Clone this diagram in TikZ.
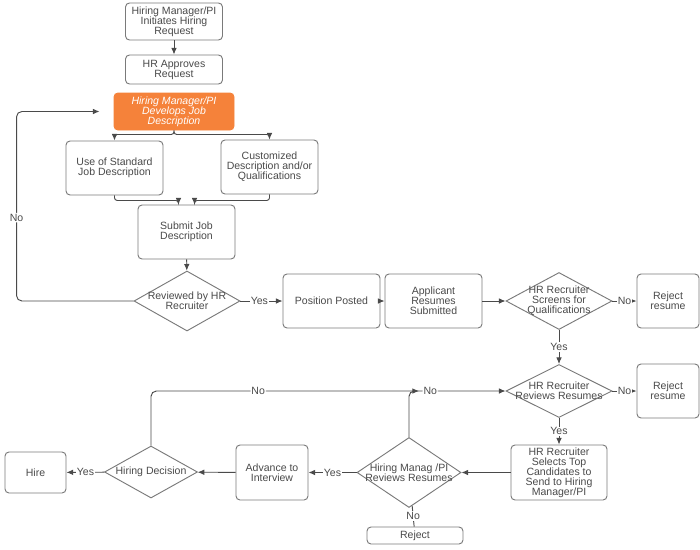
\documentclass[tikz,border=0pt]{standalone}
\usepackage{fontspec}
\setmainfont{Liberation Sans}
\usepackage{tikz}
\usetikzlibrary{arrows.meta,positioning,calc,shapes.geometric}
\definecolor{ink}{HTML}{4A4A4A}
\definecolor{edge}{HTML}{7A7A7A}
\definecolor{orangefill}{HTML}{F5823A}

\begin{document}
\begin{tikzpicture}[x=0.75pt,y=-0.75pt]
    \tikzset{
      item/.style={rounded corners=3pt,draw=edge,line width=0.7pt,fill=white,minimum width=72.75pt,minimum height=40.5pt,inner sep=1pt,align=center,font=\fontsize{7.9}{7.5}\selectfont,text=ink},
      focus/.style={item,draw=orangefill,fill=orangefill,text=white,font=\fontsize{7.9}{7.5}\selectfont\itshape},
      decision/.style={diamond,draw=edge,line width=0.7pt,fill=white,inner sep=0pt,minimum width=79.5pt,minimum height=45pt},
      dtext/.style={align=center,font=\fontsize{7.9}{7.5}\selectfont,text=ink,inner sep=0pt},
      lab/.style={fill=white,inner sep=0.8pt,font=\fontsize{7.9}{7.5}\selectfont,text=ink},
      arrow/.style={-{Latex[length=5pt,width=4.2pt]},draw=ink,line width=0.7pt},
      link/.style={draw=ink,line width=0.7pt}
    }
    \useasboundingbox (0,0) rectangle (700,550);
    % request and job description
    \node[item,minimum height=27.75pt] (init) at (174,21.5) {Hiring Manager/PI\\Initiates Hiring\\Request};
    \node[item,minimum height=21.75pt] (approve) at (174,69.5) {HR Approves\\Request};
    \node[focus,minimum width=90pt,minimum height=27.75pt] (develop) at (174,111.5) {Hiring Manager/PI\\Develops Job\\Description};
    \node[item] (standard) at (114.5,168) {Use of Standard\\Job Description};
    \node[item] (custom) at (269.5,167) {Customized\\Description and/or\\Qualifications};
    \node[item] (submit) at (186.5,232) {Submit Job\\Description};
    \node[decision,label={[dtext]center:Reviewed by HR\\Recruiter}] (reviewed) at (187,301) {};
    % posting and screening
    \node[item] (posted) at (331.5,301) {Position Posted};
    \node[item] (applicant) at (433.5,301) {Applicant\\Resumes\\Submitted};
    \node[decision,minimum height=42.75pt,label={[dtext]center:HR Recruiter\\Screens for\\Qualifications}] (screens) at (559,301) {};
    \node[item,minimum width=46.5pt] (rejectA) at (668,301) {Reject\\resume};
    \node[decision,minimum height=39.75pt,label={[dtext]center:HR Recruiter\\Reviews Resumes}] (reviews) at (559,391) {};
    \node[item,minimum width=46.5pt] (rejectB) at (668,391) {Reject\\resume};
    \node[item,minimum width=72pt,minimum height=41.25pt] (selects) at (559,472.5) {HR Recruiter\\Selects Top\\Candidates to\\Send to Hiring\\Manager/PI};
    % hiring manager review and decision
    \node[decision,minimum width=78pt,minimum height=52.5pt,label={[dtext]center:Hiring Manag /PI\\Reviews Resumes}] (hmreview) at (409,472.5) {};
    \node[item,minimum width=72pt,minimum height=12.75pt] (rejectC) at (415,535.5) {Reject};
    \node[item,minimum width=54pt,minimum height=41.25pt] (advance) at (272,472.5) {Advance to\\Interview};
    \node[decision,minimum width=69.75pt,minimum height=39pt,label={[dtext]center:Hiring Decision}] (hiredec) at (151,472) {};
    \node[item,minimum width=45.75pt,minimum height=30.75pt] (hire) at (35.5,472.5) {Hire};
    \coordinate (merge) at (419,391);

    \draw[arrow] (init) -- (approve);
    \draw[arrow,rounded corners=2pt] (develop.south) -- ++(0,4) -| (standard.north);
    \draw[arrow,rounded corners=2pt] (develop.south) -- ++(0,4) -| (custom.north);
    \draw[arrow,rounded corners=2pt] (standard.south) -- ++(0,5) -| ([xshift=-6pt]submit.north);
    \draw[arrow,rounded corners=2pt] (custom.south) -- ++(0,6) -| ([xshift=6pt]submit.north);
    \draw[arrow] (submit) -- (reviewed);
    \draw[arrow,rounded corners=4pt] (reviewed.west) -| ([xshift=-72.75pt]develop.west) node[lab,pos=0.72] {No} -- ([xshift=-10.5pt]develop.west);
    \draw[arrow] (reviewed) -- node[lab,pos=0.45] {Yes} (posted);
    \draw[arrow] (posted) -- (applicant);
    \draw[arrow] (applicant) -- (screens);
    \draw[arrow] (screens) -- node[lab] {No} (rejectA);
    \draw[arrow] (screens) -- node[lab] {Yes} (reviews);
    \draw[arrow] (reviews) -- node[lab] {No} (rejectB);
    \draw[arrow] (reviews) -- node[lab] {Yes} (selects);
    \draw[arrow] (selects) -- (hmreview);
    \draw[arrow] (hmreview) -- node[lab] {Yes} (advance);
    \draw[link] (hmreview) -- node[lab] {No} (rejectC);
    \draw[arrow,rounded corners=4pt] (hmreview.north) |- node[lab,pos=0.61] {No} (reviews.west);
    \draw[arrow] (advance) -- (hiredec);
    \draw[arrow] (hiredec) -- node[lab] {Yes} (hire);
    \draw[arrow,rounded corners=4pt] (hiredec.north) |- node[lab,pos=0.7] {No} (merge);
\end{tikzpicture}
\end{document}
